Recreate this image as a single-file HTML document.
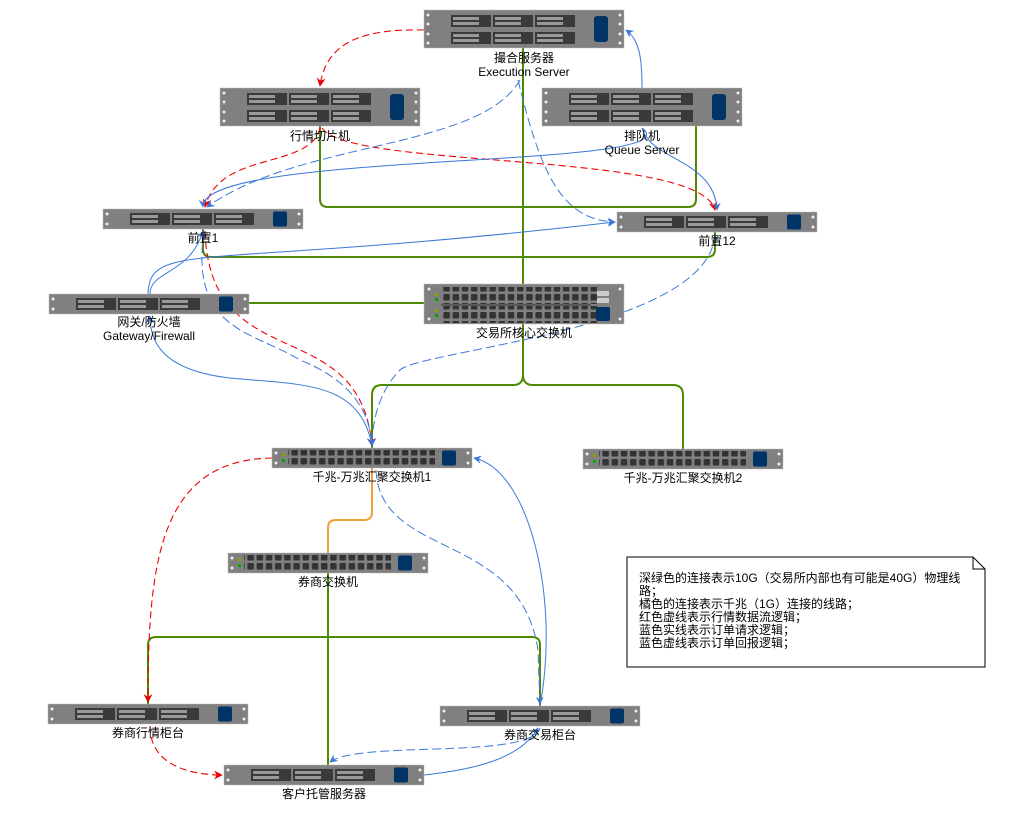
<!DOCTYPE html>
<html><head><meta charset="utf-8"><style>
body{margin:0;background:#fff;width:1013px;height:818px;overflow:hidden}
svg{display:block}
text{font-family:"Liberation Sans","Noto Sans CJK SC",sans-serif;font-size:12px;fill:#000;text-anchor:middle}
</style></head><body>
<svg width="1013" height="818" viewBox="0 0 1013 818" xmlns="http://www.w3.org/2000/svg">
<defs>
<g id="bay"><rect width="40" height="12" fill="#3a3a3a"/><rect x="2" y="2" width="26" height="3" fill="#999"/><rect x="2" y="7" width="26" height="3" fill="#999"/></g>
<g id="s1">
<rect width="200" height="20" fill="#808080" stroke="#bbb" stroke-width="0.5"/>
<circle cx="4" cy="5" r="1.5" fill="#eee"/><circle cx="4" cy="15" r="1.5" fill="#eee"/>
<circle cx="196" cy="5" r="1.5" fill="#eee"/><circle cx="196" cy="15" r="1.5" fill="#eee"/>
<use href="#bay" x="27" y="4"/><use href="#bay" x="69" y="4"/><use href="#bay" x="111" y="4"/>
<rect x="170" y="2.5" width="14" height="15" rx="2" fill="#003366"/>
</g>
<g id="s2">
<rect width="200" height="38" fill="#808080" stroke="#bbb" stroke-width="0.5"/>
<circle cx="4" cy="5" r="1.5" fill="#eee"/><circle cx="4" cy="14" r="1.5" fill="#eee"/><circle cx="4" cy="24" r="1.5" fill="#eee"/><circle cx="4" cy="33" r="1.5" fill="#eee"/>
<circle cx="196" cy="5" r="1.5" fill="#eee"/><circle cx="196" cy="14" r="1.5" fill="#eee"/><circle cx="196" cy="24" r="1.5" fill="#eee"/><circle cx="196" cy="33" r="1.5" fill="#eee"/>
<use href="#bay" x="27" y="5"/><use href="#bay" x="69" y="5"/><use href="#bay" x="111" y="5"/>
<use href="#bay" x="27" y="22"/><use href="#bay" x="69" y="22"/><use href="#bay" x="111" y="22"/>
<rect x="170" y="6" width="14" height="26" rx="3" fill="#003366"/>
</g>
<pattern id="ports" width="9.2" height="9" patternUnits="userSpaceOnUse"><rect x="1" y="1" width="6.5" height="6.5" rx="1" fill="#333"/></pattern>
<g id="sw">
<rect width="200" height="20" fill="#808080" stroke="#bbb" stroke-width="0.5"/>
<circle cx="4" cy="5" r="1.5" fill="#eee"/><circle cx="4" cy="15" r="1.5" fill="#eee"/>
<circle cx="196" cy="5" r="1.5" fill="#eee"/><circle cx="196" cy="15" r="1.5" fill="#eee"/>
<rect x="10" y="5" width="3" height="3" fill="#990"/><rect x="10" y="11" width="3" height="3" fill="#0a0"/>
<rect x="16" y="2" width="147" height="17" fill="url(#ports)"/>
<rect x="170" y="2.5" width="14" height="15" rx="2" fill="#003366"/>
</g>
<g id="core">
<rect width="200" height="40" fill="#808080" stroke="#bbb" stroke-width="0.5"/>
<circle cx="5" cy="5" r="1.5" fill="#eee"/><circle cx="5" cy="35" r="1.5" fill="#eee"/>
<circle cx="196" cy="5" r="1.5" fill="#eee"/><circle cx="196" cy="35" r="1.5" fill="#eee"/>
<rect x="11" y="9" width="3" height="3" fill="#990"/><rect x="11" y="14" width="3" height="3" fill="#0a0"/>
<rect x="11" y="25" width="3" height="3" fill="#990"/><rect x="11" y="30" width="3" height="3" fill="#0a0"/>
<rect x="17" y="3" width="156" height="17" fill="url(#ports)"/>
<rect x="17" y="22" width="156" height="17" fill="url(#ports)"/>
<rect x="17" y="20.5" width="150" height="1" fill="#333"/>
<rect x="173" y="7" width="12" height="5" rx="1" fill="#ccc"/><rect x="173" y="14" width="12" height="5" rx="1" fill="#ccc"/>
<rect x="172" y="23" width="14" height="14" rx="2" fill="#003366"/>
</g>
<marker id="ar" viewBox="0 0 10 10" refX="9" refY="5" markerWidth="8" markerHeight="8" orient="auto"><path d="M0,0 L10,5 L0,10 L3,5z" fill="#e00"/></marker>
<marker id="ab" viewBox="0 0 10 10" refX="9" refY="5" markerWidth="8" markerHeight="8" orient="auto"><path d="M0,0 L10,5 L0,10 L3,5z" fill="#3b78d8"/></marker>
</defs>

<g fill="none" stroke="#4d8a00" stroke-width="2">
<path d="M523,48 V375 Q523,385 513,385 H382 Q372,385 372,395 V448"/>
<path d="M523,375 Q523,385 533,385 H673 Q683,385 683,395 V449"/>
<path d="M320,126 V199 Q320,207 328,207 H688 Q696,207 696,199 V126"/>
<path d="M203,229 V249 Q203,257 211,257 H707 Q715,257 715,249 V232"/>
<path d="M249,303 H424"/>
<path d="M328,573 V765"/>
<path d="M148,704 V645 Q148,637 156,637 H532 Q540,637 540,645 V706"/>
</g>
<path d="M372,468 V512 Q372,520 364,520 H336 Q328,520 328,528 V553" fill="none" stroke="#f0a030" stroke-width="2"/>

<g fill="none" stroke="#e00" stroke-width="1.1" stroke-dasharray="7,4" marker-end="url(#ar)">
<path d="M424,30 C350,28 325,50 320,86"/>
<path d="M320,128 C310,170 220,150 205,207"/>
<path d="M322,128 C350,170 700,150 715,210"/>
<path d="M205,231 C210,380 360,310 372,446"/>
<path d="M272,458 C160,460 148,560 148,702"/>
<path d="M150,726 C150,770 200,775 222,775"/>
</g>
<g fill="none" stroke="#3b78d8" stroke-width="1" stroke-dasharray="9,4" marker-end="url(#ab)">
<path d="M520,80 C480,150 300,140 207,207"/>
<path d="M518,80 C540,170 560,220 615,222"/>
<path d="M204,231 C190,330 250,330 300,360 C350,380 370,410 372,446"/>
<path d="M715,234 C710,330 420,350 400,370 C380,390 372,420 372,446"/>
<path d="M376,470 C380,560 520,530 538,650 L540,704"/>
<path d="M540,728 C530,760 360,740 330,762"/>
</g>
<g fill="none" stroke="#3b78d8" stroke-width="1" marker-end="url(#ab)">
<path d="M642,88 C642,60 640,40 626,30"/>
<path d="M642,128 C700,170 200,150 203,207"/>
<path d="M148,294 C150,240 200,270 615,222"/>
<path d="M150,294 C150,270 190,275 203,231"/>
<path d="M372,446 C360,380 300,385 230,378 C160,370 150,340 150,316"/>
<path d="M540,706 C560,600 530,470 474,458"/>
<path d="M424,775 C470,770 520,760 538,728"/>
<path d="M642,128 C650,160 715,160 717,210"/>
</g>

<use href="#s2" x="424" y="10"/>
<use href="#s2" x="220" y="88"/>
<use href="#s2" x="542" y="88"/>
<use href="#s1" x="103" y="209"/>
<use href="#s1" x="617" y="212"/>
<use href="#s1" x="49" y="294"/>
<use href="#core" x="424" y="284"/>
<use href="#sw" x="272" y="448"/>
<use href="#sw" x="583" y="449"/>
<use href="#sw" x="228" y="553"/>
<use href="#s1" x="48" y="704"/>
<use href="#s1" x="440" y="706"/>
<use href="#s1" x="224" y="765"/>

<text x="524" y="62">撮合服务器</text>
<text x="524" y="76">Execution Server</text>
<text x="320" y="140">行情切片机</text>
<text x="642" y="140">排队机</text>
<text x="642" y="154">Queue Server</text>
<text x="203" y="242">前置1</text>
<text x="717" y="245">前置12</text>
<text x="149" y="326">网关/防火墙</text>
<text x="149" y="340">Gateway/Firewall</text>
<text x="524" y="337">交易所核心交换机</text>
<text x="372" y="481">千兆-万兆汇聚交换机1</text>
<text x="683" y="482">千兆-万兆汇聚交换机2</text>
<text x="328" y="586">券商交换机</text>
<text x="148" y="737">券商行情柜台</text>
<text x="540" y="739">券商交易柜台</text>
<text x="324" y="798">客户托管服务器</text>

<path d="M627,557 H973 L985,569 V667 H627 Z" fill="#fff" stroke="#000" stroke-width="1"/>
<path d="M973,557 V569 H985" fill="none" stroke="#000"/>
<text x="639" y="582" style="text-anchor:start">深绿色的连接表示10G（交易所内部也有可能是40G）物理线</text>
<text x="639" y="595" style="text-anchor:start">路；</text>
<text x="639" y="608" style="text-anchor:start">橘色的连接表示千兆（1G）连接的线路；</text>
<text x="639" y="621" style="text-anchor:start">红色虚线表示行情数据流逻辑；</text>
<text x="639" y="634" style="text-anchor:start">蓝色实线表示订单请求逻辑；</text>
<text x="639" y="647" style="text-anchor:start">蓝色虚线表示订单回报逻辑；</text>
</svg>
</body></html>
